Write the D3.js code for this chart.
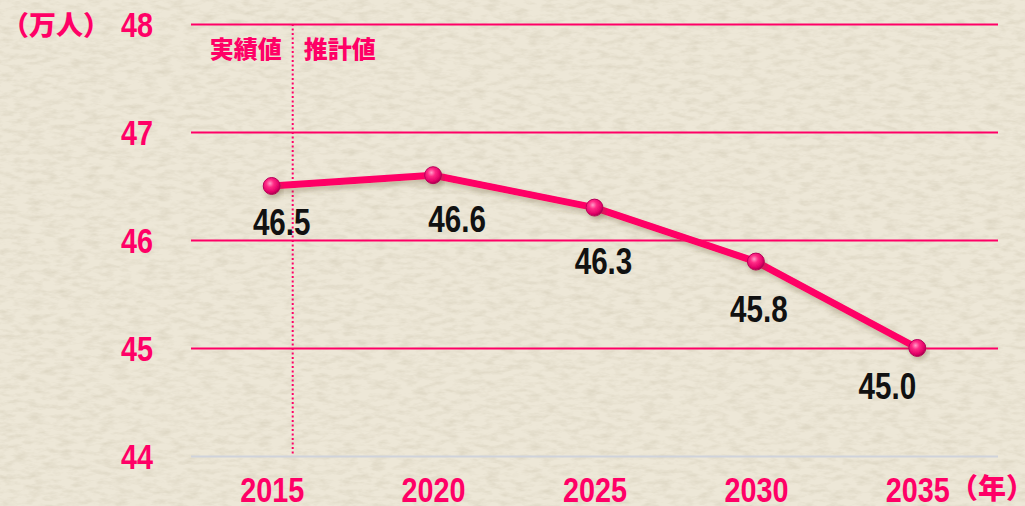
<!DOCTYPE html>
<meta charset="utf-8">
<style>
    body { margin: 0; background: #e9e3d1; }
    svg { display: block; }
    .num { font-family: "Liberation Sans", Arial, sans-serif; font-weight: bold; }
    .jp { font-family: "Noto Sans CJK JP", sans-serif; font-weight: 900; }
    .axis text { fill: #ff0066; font-size: 36px; }
</style>
<svg width="1025" height="506"></svg>
<script src="https://d3js.org/d3.v7.min.js"></script>
<script>

    // data
    var years = ["2015", "2020", "2025", "2030", "2035"];
    var values = [46.5, 46.6, 46.3, 45.8, 45.0];
    var valueLabels = ["46.5", "46.6", "46.3", "45.8", "45.0"];
    var yTicks = [44, 45, 46, 47, 48];

    // hand-placed label nudges (px) as in the original
    var labelDx = [10, 24, 9, 3, -30],
        labelDy = [49, 57, 66, 60, 51];

    var pink = "#ff0066";
    var squeeze = 0.8;   // condensed look for the digits

    var svg = d3.select("svg"),
        width = +svg.attr("width"),
        height = +svg.attr("height"),
        margin = {top: 24, right: 27, bottom: 50, left: 191},
        innerW = width - margin.left - margin.right,
        innerH = height - margin.top - margin.bottom;

    var defs = svg.append("defs");

    // paper texture
    var paper = defs.append("filter").attr("id", "paper")
        .attr("x", 0).attr("y", 0).attr("width", "100%").attr("height", "100%");
    paper.append("feTurbulence").attr("type", "fractalNoise")
        .attr("baseFrequency", "0.07 0.2").attr("numOctaves", 4).attr("seed", 3);
    paper.append("feColorMatrix").attr("type", "matrix")
        .attr("values", "0 0 0 0 0.58  0 0 0 0 0.53  0 0 0 0 0.40  0 0 0 -0.8 0.48");

    var shadow = defs.append("filter").attr("id", "shadow")
        .attr("x", "-10%").attr("y", "-20%").attr("width", "130%").attr("height", "160%");
    shadow.append("feDropShadow").attr("dx", 2).attr("dy", 4).attr("stdDeviation", 2.5)
        .attr("flood-color", "#6b5a3a").attr("flood-opacity", 0.3);

    var ball = defs.append("radialGradient").attr("id", "ball")
        .attr("cx", "40%").attr("cy", "35%").attr("r", "65%");
    ball.append("stop").attr("offset", "0%").attr("stop-color", "#ff9cc8");
    ball.append("stop").attr("offset", "35%").attr("stop-color", "#ff2a85");
    ball.append("stop").attr("offset", "80%").attr("stop-color", "#e00066");
    ball.append("stop").attr("offset", "100%").attr("stop-color", "#a8004c");

    svg.append("rect").attr("width", width).attr("height", height).attr("fill", "#ede7d7");
    svg.append("rect").attr("width", width).attr("height", height).attr("filter", "url(#paper)");

    var g = svg.append("g").attr("transform", "translate(" + margin.left + "," + margin.top + ")");

    var x = d3.scalePoint().domain(years).range([0, innerW]).padding(0.5);
    var y = d3.scaleLinear().domain([44, 48]).range([innerH, 0]);

    function narrow(sel, x0) {
        sel.attr("x", x0 / squeeze).attr("transform", "scale(" + squeeze + ",1)");
    }

    // y axis + gridlines
    var yAxis = g.append("g").attr("class", "axis num")
        .call(d3.axisLeft(y).tickValues(yTicks).tickSize(-innerW).tickPadding(38).tickFormat(d3.format("d")));
    yAxis.select(".domain").remove();
    yAxis.selectAll(".tick line")
        .attr("stroke", function(d) { return d === 44 ? "#d0d3db" : pink; })
        .attr("stroke-width", 2);
    yAxis.selectAll(".tick text").attr("dy", "0.36em").call(narrow, -38);

    // x axis
    var xAxis = g.append("g").attr("class", "axis num")
        .attr("transform", "translate(0," + innerH + ")")
        .call(d3.axisBottom(x).tickSize(0).tickPadding(20));
    xAxis.select(".domain").remove();
    xAxis.selectAll(".tick text").call(narrow, 0);

    // divider between actual and projected
    var divX = x("2015") + 21;
    g.append("line")
        .attr("x1", divX).attr("x2", divX).attr("y1", 0).attr("y2", innerH)
        .attr("stroke", pink).attr("stroke-width", 2).attr("stroke-dasharray", "2,2.5");

    g.append("text").attr("class", "jp")
        .attr("x", divX - 11).attr("y", 26).attr("dy", "0.35em")
        .attr("text-anchor", "end").attr("font-size", 24).attr("fill", pink)
        .text("実績値");
    g.append("text").attr("class", "jp")
        .attr("x", divX + 11).attr("y", 26).attr("dy", "0.35em")
        .attr("font-size", 24).attr("fill", pink)
        .text("推計値");

    // unit labels
    svg.append("text").attr("class", "jp")
        .attr("x", 110).attr("y", 25).attr("dy", "0.36em")
        .attr("text-anchor", "end").attr("font-size", 27).attr("fill", pink)
        .text("（万人）");
    svg.append("text").attr("class", "jp")
        .attr("x", 1034).attr("y", margin.top + innerH + 33).attr("dy", "0.36em")
        .attr("text-anchor", "end").attr("font-size", 28).attr("fill", pink)
        .text("（年）");

    // line
    var line = d3.line()
        .x(function(d, i) { return x(years[i]); })
        .y(function(d) { return y(d); });

    g.append("path")
        .datum(values)
        .attr("d", line)
        .attr("fill", "none")
        .attr("stroke", pink)
        .attr("stroke-width", 7)
        .attr("stroke-linejoin", "round")
        .attr("filter", "url(#shadow)");

    g.selectAll("circle")
        .data(values)
        .enter().append("circle")
        .attr("cx", function(d, i) { return x(years[i]); })
        .attr("cy", function(d) { return y(d); })
        .attr("r", 8.5)
        .attr("fill", "url(#ball)")
        .attr("stroke", "#b8005a")
        .attr("stroke-width", 1)
        .attr("filter", "url(#shadow)");

    g.selectAll(".val")
        .data(values)
        .enter().append("text")
        .attr("class", "val num")
        .attr("x", function(d, i) { return (x(years[i]) + labelDx[i]) / squeeze; })
        .attr("y", function(d, i) { return y(d) + labelDy[i]; })
        .attr("transform", "scale(" + squeeze + ",1)")
        .attr("text-anchor", "middle")
        .attr("font-size", 37)
        .attr("fill", "#111")
        .text(function(d, i) { return valueLabels[i]; });

</script>
